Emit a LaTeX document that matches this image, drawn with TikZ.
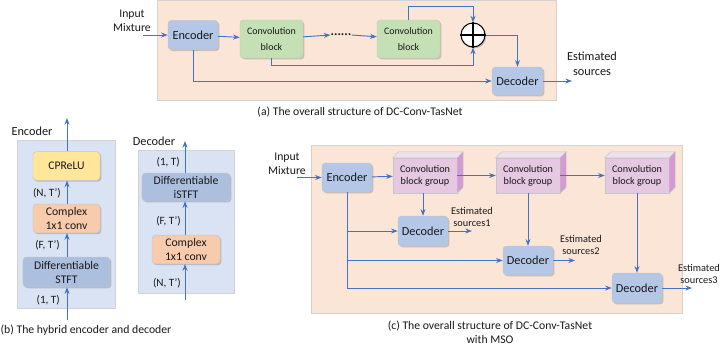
\documentclass[tikz,border=0pt]{standalone}
\usepackage{fontspec}
\setmainfont{Carlito}
\usetikzlibrary{arrows.meta, calc, shadows}
\definecolor{linkblue}{HTML}{4472C4}
\definecolor{peach}{HTML}{FBE5D6}
\definecolor{paleblue}{HTML}{DAE3F3}
\definecolor{encblue}{HTML}{B4C7E7}
\definecolor{convgreen}{HTML}{C5E0B4}
\definecolor{reluyellow}{HTML}{FFE699}
\definecolor{cplxorange}{HTML}{F8CBAD}
\definecolor{cubefront}{HTML}{E5C8E2}
\definecolor{cubetop}{HTML}{F0E0EE}
\definecolor{cubeside}{HTML}{D49BD0}

\begin{document}
\begin{tikzpicture}[x=0.03cm, y=-0.03cm, >={Stealth[length=2mm]},
  every node/.style={font=\fontsize{10}{12}\selectfont, text=black!90},
  block/.style={draw=gray!45, rounded corners=3pt, align=center, inner sep=1pt,
    drop shadow={shadow xshift=1.2pt, shadow yshift=-1.2pt, opacity=0.4, fill=gray}},
  encbox/.style={block, fill=encblue, minimum width=1.5cm, minimum height=0.88cm, font=\fontsize{10.5}{12}\selectfont},
  convbox/.style={block, fill=convgreen, minimum width=1.89cm, minimum height=1.14cm, font=\fontsize{8.5}{13}\selectfont},
  stackbox/.style={block, minimum height=0.86cm, font=\fontsize{10}{12}\selectfont},
  groupbox/.style={draw=gray!45, fill=cubefront, align=center, inner sep=1pt, minimum width=1.92cm, minimum height=1.05cm, font=\fontsize{8.7}{10.5}\selectfont},
  txt/.style={align=center, inner sep=0pt},
  dim/.style={anchor=east, inner sep=0pt, font=\fontsize{9.5}{11}\selectfont},
  small/.style={align=center, inner sep=0pt, font=\fontsize{8.8}{10.5}\selectfont},
  link/.style={->, draw=linkblue, line width=0.8pt},
  panel/.style={draw=gray!35, line width=0.6pt}]
  \useasboundingbox (0,0) rectangle (722,353);

  % (a) overall structure
  \fill[peach, panel] (157,0) rectangle (556,100);
  \node[txt] (mixA) at (132,21) {Input\\Mixture};
  \coordinate (inA) at (143,35);
  \node[encbox] (encA) at (193,35) {Encoder};
  \node[convbox] (convA1) at (271.5,39) {Convolution\\block};
  \node[txt, font=\fontsize{11}{12}\selectfont\bfseries] (dotsA) at (341,35) {......};
  \node[convbox] (convA2) at (408.5,39) {Convolution\\block};
  \node[circle, draw=black, fill=white, line width=0.9pt, minimum size=0.72cm, inner sep=0pt,
    drop shadow={shadow xshift=1.2pt, shadow yshift=-1.2pt, opacity=0.4, fill=gray}] (sumA) at (473,35) {};
  \draw[line width=0.9pt] (sumA.north) -- (sumA.south) (sumA.west) -- (sumA.east);
  \node[encbox, minimum width=1.53cm, minimum height=0.84cm] (decA) at (517.5,81) {Decoder};
  \coordinate (outA) at (572,81);
  \node[txt, font=\fontsize{10.5}{12.5}\selectfont] (estA) at (592,64) {Estimated\\sources};

  \draw[link] (inA) -- (inA -| encA.west);
  \draw[link] (encA) -- (convA1);
  \draw[link] (convA1) -- (dotsA.west);
  \draw[link] (dotsA.east) -- (convA2);
  \draw[link] (convA2.north) -- ++(0,-13) -| (sumA.north);
  \draw[link] (convA1.south) -- ++(0,7) -| (sumA.south);
  \draw[link] (sumA.east) -| (decA.north);
  \draw[link] (encA.south) |- (decA.west);
  \draw[link] (decA.east) -- (outA);

  \node[txt] (capA) at (360,112) {(a) The overall structure of DC-Conv-TasNet};

  % (b) hybrid encoder
  \fill[paleblue, panel] (17,140) rectangle (115,308);
  \node[stackbox, fill=reluyellow, minimum width=2.01cm] (relu) at (66.5,166) {CPReLU};
  \node[stackbox, fill=cplxorange, minimum width=2.01cm] (cplxE) at (66.5,218.5) {Complex\\1x1 conv};
  \node[stackbox, fill=encblue!96!black, minimum width=2.61cm, minimum height=0.9cm] (stft) at (66.5,272) {Differentiable\\STFT};
  \coordinate (inE) at (67,320);
  \coordinate (outE) at (67,118);
  \draw[link] (inE) -- (inE |- stft.south);
  \draw[link] (stft.north -| inE) -- (cplxE.south -| inE);
  \draw[link] (cplxE.north -| inE) -- (relu.south -| inE);
  \draw[link] (relu.north -| inE) -- (outE);
  \node[dim] (dimE1) at (60,300) {(1, T)};
  \node[dim] (dimE2) at (60,245) {(F, T')};
  \node[dim] (dimE3) at (61,193) {(N, T')};
  \node[txt, font=\fontsize{10.5}{12}\selectfont] (labE) at (32,131) {Encoder};

  % (b) hybrid decoder
  \fill[paleblue, panel] (138,150) rectangle (234,293);
  \node[stackbox, fill=encblue!96!black, minimum width=2.64cm, minimum height=0.84cm] (istft) at (186,187) {Differentiable\\iSTFT};
  \node[stackbox, fill=cplxorange, minimum width=2.04cm] (cplxD) at (186,249.5) {Complex\\1x1 conv};
  \coordinate (inD) at (185,300);
  \coordinate (outD) at (185,141);
  \draw[link] (inD) -- (inD |- cplxD.south);
  \draw[link] (cplxD.north -| inD) -- (istft.south -| inD);
  \draw[link] (istft.north -| inD) -- (outD);
  \node[dim] (dimD1) at (180,162) {(1, T)};
  \node[dim] (dimD2) at (181,221) {(F, T')};
  \node[dim] (dimD3) at (181,283) {(N, T')};
  \node[txt, font=\fontsize{10.5}{12}\selectfont] (labD) at (154,141) {Decoder};

  \node[txt] (capB) at (86,330) {(b) The hybrid encoder and decoder};

  % (c) with MSO
  \fill[peach, panel] (311,145) rectangle (682,313);
  \node[txt] (mixC) at (287,164) {Input\\Mixture};
  \coordinate (inC) at (297,177.5);
  \node[encbox, minimum height=0.87cm] (encC) at (347,177.5) {Encoder};
  \node[groupbox] (grp1) at (425,175.5) {Convolution\\block group};
  \node[groupbox] (grp2) at (528,175.5) {Convolution\\block group};
  \node[groupbox] (grp3) at (637,175.5) {Convolution\\block group};
  \foreach \g in {grp1,grp2,grp3} {
    \filldraw[fill=cubetop, draw=gray!45] (\g.north west) -- ++(6,-6) -- ($(\g.north east)+(6,-6)$) -- (\g.north east) -- cycle;
    \filldraw[fill=cubeside, draw=gray!45] (\g.north east) -- ++(6,-6) -- ($(\g.south east)+(6,-6)$) -- (\g.south east) -- cycle;
  }
  \node[encbox, minimum height=0.9cm] (dec1) at (423,231) {Decoder};
  \node[encbox, minimum height=0.87cm] (dec2) at (528,260.5) {Decoder};
  \node[encbox, minimum height=0.9cm] (dec3) at (637,288) {Decoder};
  \coordinate (out1) at (472,231);
  \coordinate (out2) at (575,260.5);
  \coordinate (out3) at (692,288);
  \node[small] (est1) at (472,217) {Estimated\\sources1};
  \node[small] (est2) at (581,245) {Estimated\\sources2};
  \node[small] (est3) at (699,274) {Estimated\\sources3};

  \draw[link] (inC) -- (encC);
  \draw[link] (encC) -- (grp1);
  \draw[link] (grp1) -- (grp2);
  \draw[link] (grp2) -- (grp3);
  \draw[link] (grp1.south -| dec1) -- (dec1);
  \draw[link] (grp2.south) -- (dec2);
  \draw[link] (grp3.south) -- (dec3);
  \draw[link] (encC.south) |- (dec1.west);
  \draw[link] (encC.south) |- (dec2.west);
  \draw[link] (encC.south) |- (dec3.west);
  \draw[link] (dec1) -- (out1);
  \draw[link] (dec2) -- (out2);
  \draw[link] (dec3) -- (out3);

  \node[txt] (capC) at (490,332) {(c) The overall structure of DC-Conv-TasNet\\with MSO};
\end{tikzpicture}
\end{document}
